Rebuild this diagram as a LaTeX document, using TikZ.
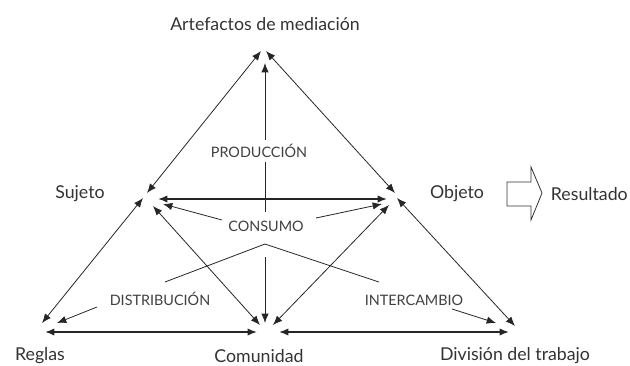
\documentclass[tikz,border=0pt]{standalone}
\usepackage{fontspec}
\setmainfont{Lato}
\usetikzlibrary{arrows.meta}

\begin{document}
\begin{tikzpicture}[x=0.75pt,y=-0.75pt,
   onearr/.style={-{Latex[length=7pt,width=5.5pt]}},
   twoarr/.style={{Latex[length=7pt,width=5.5pt]}-{Latex[length=7pt,width=5.5pt]}},
   side/.style={draw=black!85, line width=0.6pt},
   flat/.style={draw=black!85, line width=1.2pt},
   vertexlbl/.style={text=black!80, font=\fontsize{13.3}{15}\selectfont, inner sep=0pt},
   actlbl/.style={text=black!75, font=\fontsize{10.8}{12}\selectfont, inner sep=3pt}]

   \useasboundingbox (0,0) rectangle (630,365);

   % names
   \node[vertexlbl] (art) at (265,24) {Artefactos de mediación};
   \node[vertexlbl] (suj) at (80,194) {Sujeto};
   \node[vertexlbl] (obj) at (457,194) {Objeto};
   \node[vertexlbl, anchor=east] (res) at (628,194) {Resultado};
   \node[vertexlbl] (reg) at (40,356) {Reglas};
   \node[vertexlbl] (com) at (259,356) {Comunidad};
   \node[vertexlbl] (div) at (515,356) {División del trabajo};

   % arrow tips at the corners
   \coordinate (aS) at (261,51);  \coordinate (aO) at (266,51);  \coordinate (aC) at (265,63);
   \coordinate (sA) at (147,193); \coordinate (sR) at (143,198); \coordinate (sO) at (158,199);
   \coordinate (sK) at (163,204); \coordinate (sC) at (153,206);
   \coordinate (oA) at (395,193); \coordinate (oD) at (397,198); \coordinate (oS) at (387,199);
   \coordinate (oK) at (382,204); \coordinate (oC) at (389,205);
   \coordinate (rS) at (42,323);  \coordinate (rT) at (57,323);  \coordinate (rC) at (45,332);
   \coordinate (cR) at (257,332); \coordinate (cS) at (260,325); \coordinate (cA) at (265,323);
   \coordinate (cO) at (273,325); \coordinate (cD) at (279,332);
   \coordinate (dC) at (509,332); \coordinate (dO) at (515,326); \coordinate (dI) at (496,323);

   % free ends
   \coordinate (vTop) at (265,212); \coordinate (vBot) at (265,257);
   \coordinate (kL) at (222,220);   \coordinate (kR) at (316,218);
   \coordinate (lL) at (165,282);   \coordinate (lM) at (265,244);  \coordinate (lR) at (379,282);
   \coordinate (tL) at (97,307);    \coordinate (tR) at (452,309);

   % triangle sides
   \draw[side,twoarr] (sA) -- (aS);
   \draw[side,twoarr] (oA) -- (aO);
   \draw[side,twoarr] (rS) -- (sR);
   \draw[side,twoarr] (sC) -- (cS);
   \draw[side,twoarr] (oC) -- (cO);
   \draw[side,twoarr] (oD) -- (dO);
   \draw[flat,twoarr] (sO) -- (oS);
   \draw[flat,twoarr] (rC) -- (cR);
   \draw[flat,twoarr] (cD) -- (dC);

   % inner arrows
   \draw[side,onearr] (vTop) -- (aC);
   \draw[side,onearr] (vBot) -- (cA);
   \draw[side,onearr] (kL) -- (sK);
   \draw[side,onearr] (kR) -- (oK);
   \draw[side] (lL) -- (lM) -- (lR);
   \draw[side,onearr] (tL) -- (rT);
   \draw[side,onearr] (tR) -- (dI);

   % activities
   \node[actlbl, fill=white] (prod) at (259,151) {PRODUCCIÓN};
   \node[actlbl] (cons) at (266,226) {CONSUMO};
   \node[actlbl] (dist) at (160,299) {DISTRIBUCIÓN};
   \node[actlbl] (inter) at (414,300) {INTERCAMBIO};

   % result
   \draw[draw=black!80, line width=0.6pt] (507,182) -- (531,182) -- (531,167) -- (542,193)
      -- (531,220) -- (531,206) -- (507,206) -- cycle;
\end{tikzpicture}
\end{document}
